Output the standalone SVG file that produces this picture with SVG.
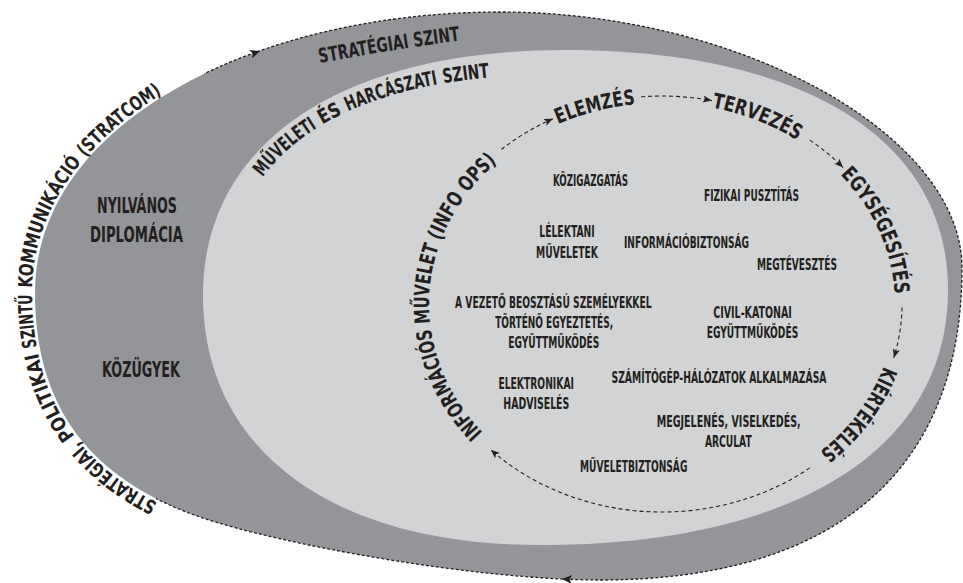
<svg xmlns="http://www.w3.org/2000/svg" width="963" height="583" viewBox="0 0 963 583">
<style>
.t { font-family: "Liberation Sans Narrow", "DejaVu Sans Condensed", "Roboto Condensed", "Liberation Sans", sans-serif; font-weight: bold; fill: #231f20; font-stretch: condensed; }
.c { text-anchor: middle; font-size: 15.5px; }
.big { text-anchor: middle; font-size: 21px; }
.arc { font-size: 21px; }
.lvl { font-size: 20px; }
.sc { font-size: 19.5px; }
.dash { fill: none; stroke: #231f20; stroke-width: 1.1; stroke-dasharray: 4 3; }
.odash { fill: none; stroke: #231f20; stroke-width: 1.3; stroke-dasharray: 3 2; }
.outer { fill: #939598; }
.inner { fill: #d1d3d4; }
</style>
<defs>
  <marker id="arrow" viewBox="0 0 10 10" refX="10" refY="5" markerWidth="9" markerHeight="9" markerUnits="userSpaceOnUse" orient="auto">
    <path d="M0,1 L10,5 L0,9 L2.5,5 Z" fill="#231f20"/>
  </marker>
  <path id="ah" d="M0,0 L-10,-4.5 L-7.5,0 L-10,4.5 Z" fill="#231f20"/>
  <clipPath id="dashclip">
    <polygon points="204,0 963,0 963,583 0,583 0,580 156,499 204,74"/>
  </clipPath>
  <path id="outerShape" d="M35,293 C35,120 260,12 500,12 C740,12 962,135 962,268 C962,471 835,580 600,580 C480,580 285,546 200,517 C96,481 35,413 35,293 Z"/>
  <path id="p-stratcom" d="M199,520 C95,484 32,414 32,293 C32,120 258,9 500,9"/>
  <path id="p-strat" d="M300,67 Q390,49 480,38"/>
  <path id="p-mus" d="M262.7,177.2 C312.96,109.14 415.4,74 565,74"/>
  <path id="p-elemzes" d="M491.6,166.9 A233,201 0 0 1 714.4,108.1"/>
  <path id="p-tervezes" d="M639.7,103.9 A233,201 0 0 1 851.7,187.3"/>
  <path id="p-egyseg" d="M808.6,147.8 A233,201 0 0 1 892.1,335.4"/>
  <path id="p-kiert" d="M894.9,311.0 A233,201 0 0 1 771.4,481.5"/>
  <path id="p-info" d="M536.8,473.5 A233,201 0 0 1 554.4,125.7"/>
</defs>

<g id="strategic-level">
  <use href="#outerShape" class="outer"/>
  <text class="t lvl"><textPath href="#p-strat" startOffset="50%" text-anchor="middle" textLength="142" lengthAdjust="spacingAndGlyphs">STRATÉGIAI SZINT</textPath></text>
</g>

<g id="stratcom-label">
  <text class="t sc"><textPath href="#p-stratcom" startOffset="45" textLength="101" lengthAdjust="spacingAndGlyphs">STRATÉGIAI,</textPath></text>
  <text class="t sc"><textPath href="#p-stratcom" startOffset="152" textLength="92" lengthAdjust="spacingAndGlyphs">POLITIKAI</textPath></text>
  <text class="t sc"><textPath href="#p-stratcom" startOffset="250" textLength="53" lengthAdjust="spacingAndGlyphs">SZINTŰ</textPath></text>
  <text class="t sc"><textPath href="#p-stratcom" startOffset="309" textLength="138" lengthAdjust="spacingAndGlyphs">KOMMUNIKÁCIÓ</textPath></text>
  <text class="t sc"><textPath href="#p-stratcom" startOffset="453" textLength="100" lengthAdjust="spacingAndGlyphs">(STRATCOM)</textPath></text>
</g>

<g id="nyilvanos-diplomacia">
  <text class="t big" x="137" y="213" textLength="80" lengthAdjust="spacingAndGlyphs">NYILVÁNOS</text>
  <text class="t big" x="136.5" y="242" textLength="93" lengthAdjust="spacingAndGlyphs">DIPLOMÁCIA</text>
</g>
<g id="kozugyek">
  <text class="t big" x="141" y="377" textLength="78" lengthAdjust="spacingAndGlyphs">KÖZÜGYEK</text>
</g>

<g id="operational-level">
  <path class="inner" d="M203,295 C203,143 341,50 565,50 C807,50 948,141 948,290 C948,448 797,545 540,545 C331,545 203,450 203,295 Z"/>
  <text class="t lvl"><textPath href="#p-mus" startOffset="0" textLength="74" lengthAdjust="spacingAndGlyphs">MŰVELETI</textPath></text>
  <text class="t lvl"><textPath href="#p-mus" startOffset="80" textLength="23" lengthAdjust="spacingAndGlyphs">ÉS</textPath></text>
  <text class="t lvl"><textPath href="#p-mus" startOffset="109" textLength="94" lengthAdjust="spacingAndGlyphs">HARCÁSZATI</textPath></text>
  <text class="t lvl"><textPath href="#p-mus" startOffset="209" textLength="46" lengthAdjust="spacingAndGlyphs">SZINT</textPath></text>
</g>

<g id="info-ops">
  <text class="t arc"><textPath href="#p-info" startOffset="68" textLength="118" lengthAdjust="spacingAndGlyphs">INFORMÁCIÓS</textPath></text>
  <text class="t arc"><textPath href="#p-info" startOffset="191.5" textLength="78" lengthAdjust="spacingAndGlyphs">MŰVELET</textPath></text>
  <text class="t arc"><textPath href="#p-info" startOffset="275" textLength="98" lengthAdjust="spacingAndGlyphs">(INFO OPS)</textPath></text>
</g>
<g id="elemzes">
  <text class="t arc"><textPath href="#p-elemzes" startOffset="50%" text-anchor="middle" textLength="80" lengthAdjust="spacingAndGlyphs">ELEMZÉS</textPath></text>
</g>
<g id="tervezes">
  <text class="t arc"><textPath href="#p-tervezes" startOffset="50%" text-anchor="middle" textLength="92" lengthAdjust="spacingAndGlyphs">TERVEZÉS</textPath></text>
</g>
<g id="egysegesites">
  <text class="t arc"><textPath href="#p-egyseg" startOffset="50%" text-anchor="middle" textLength="134" lengthAdjust="spacingAndGlyphs">EGYSÉGESÍTÉS</textPath></text>
</g>
<g id="kiertekeles">
  <text class="t arc"><textPath href="#p-kiert" startOffset="50%" text-anchor="middle" textLength="108" lengthAdjust="spacingAndGlyphs">KIÉRTÉKELÉS</textPath></text>
</g>

<g id="kozigazgatas"><text class="t c" x="590.5" y="186" textLength="75" lengthAdjust="spacingAndGlyphs">KÖZIGAZGATÁS</text></g>
<g id="fizikai-pusztitas"><text class="t c" x="751.5" y="201" textLength="95" lengthAdjust="spacingAndGlyphs">FIZIKAI PUSZTÍTÁS</text></g>
<g id="lelektani-muveletek">
  <text class="t c" x="567" y="237" textLength="55.5" lengthAdjust="spacingAndGlyphs">LÉLEKTANI</text>
  <text class="t c" x="567" y="258" textLength="62" lengthAdjust="spacingAndGlyphs">MŰVELETEK</text>
</g>
<g id="informaciobiztonsag"><text class="t c" x="686.5" y="248" textLength="125" lengthAdjust="spacingAndGlyphs">INFORMÁCIÓBIZTONSÁG</text></g>
<g id="megtevesztes"><text class="t c" x="797" y="270" textLength="80" lengthAdjust="spacingAndGlyphs">MEGTÉVESZTÉS</text></g>
<g id="vezeto-egyeztetes">
  <text class="t c" x="553.3" y="307.5" textLength="196.5" lengthAdjust="spacingAndGlyphs">A VEZETŐ BEOSZTÁSÚ SZEMÉLYEKKEL</text>
  <text class="t c" x="554.2" y="328" textLength="118" lengthAdjust="spacingAndGlyphs">TÖRTÉNŐ EGYEZTETÉS,</text>
  <text class="t c" x="553.8" y="348" textLength="91" lengthAdjust="spacingAndGlyphs">EGYÜTTMŰKÖDÉS</text>
</g>
<g id="civil-katonai">
  <text class="t c" x="752.5" y="317.5" textLength="78.5" lengthAdjust="spacingAndGlyphs">CIVIL-KATONAI</text>
  <text class="t c" x="752.5" y="338" textLength="91.5" lengthAdjust="spacingAndGlyphs">EGYÜTTMŰKÖDÉS</text>
</g>
<g id="szamitogep-halozatok"><text class="t c" x="719" y="382.5" textLength="215" lengthAdjust="spacingAndGlyphs">SZÁMÍTÓGÉP-HÁLÓZATOK ALKALMAZÁSA</text></g>
<g id="elektronikai-hadviseles">
  <text class="t c" x="536.2" y="388.5" textLength="75.5" lengthAdjust="spacingAndGlyphs">ELEKTRONIKAI</text>
  <text class="t c" x="536.3" y="409" textLength="66" lengthAdjust="spacingAndGlyphs">HADVISELÉS</text>
</g>
<g id="megjelenes">
  <text class="t c" x="728.7" y="426.5" textLength="144" lengthAdjust="spacingAndGlyphs">MEGJELENÉS, VISELKEDÉS,</text>
  <text class="t c" x="728.3" y="446.7" textLength="46.7" lengthAdjust="spacingAndGlyphs">ARCULAT</text>
</g>
<g id="muveletbiztonsag"><text class="t c" x="633.7" y="472.3" textLength="107.3" lengthAdjust="spacingAndGlyphs">MŰVELETBIZTONSÁG</text></g>

<g id="connectors">
  <use href="#outerShape" class="odash" clip-path="url(#dashclip)"/>
  <use href="#ah" transform="translate(260,51) rotate(-19.4)"/>
  <use href="#ah" transform="translate(562,579) rotate(182.8)"/>
  <path class="dash" marker-end="url(#arrow)" d="M501.4,149.4 A240,208 0 0 1 553.0,118.7"/>
  <path class="dash" marker-end="url(#arrow)" d="M641.1,96.8 A240,208 0 0 1 711.9,100.6"/>
  <path class="dash" marker-end="url(#arrow)" d="M809.8,140.1 A240,208 0 0 1 843.1,167.5"/>
  <path class="dash" marker-end="url(#arrow)" d="M902.0,307.6 A240,208 0 0 1 893.8,357.8"/>
  <path class="dash" marker-end="url(#arrow)" d="M809.8,467.9 A240,208 0 0 1 490.8,449.8"/>
</g>
</svg>
